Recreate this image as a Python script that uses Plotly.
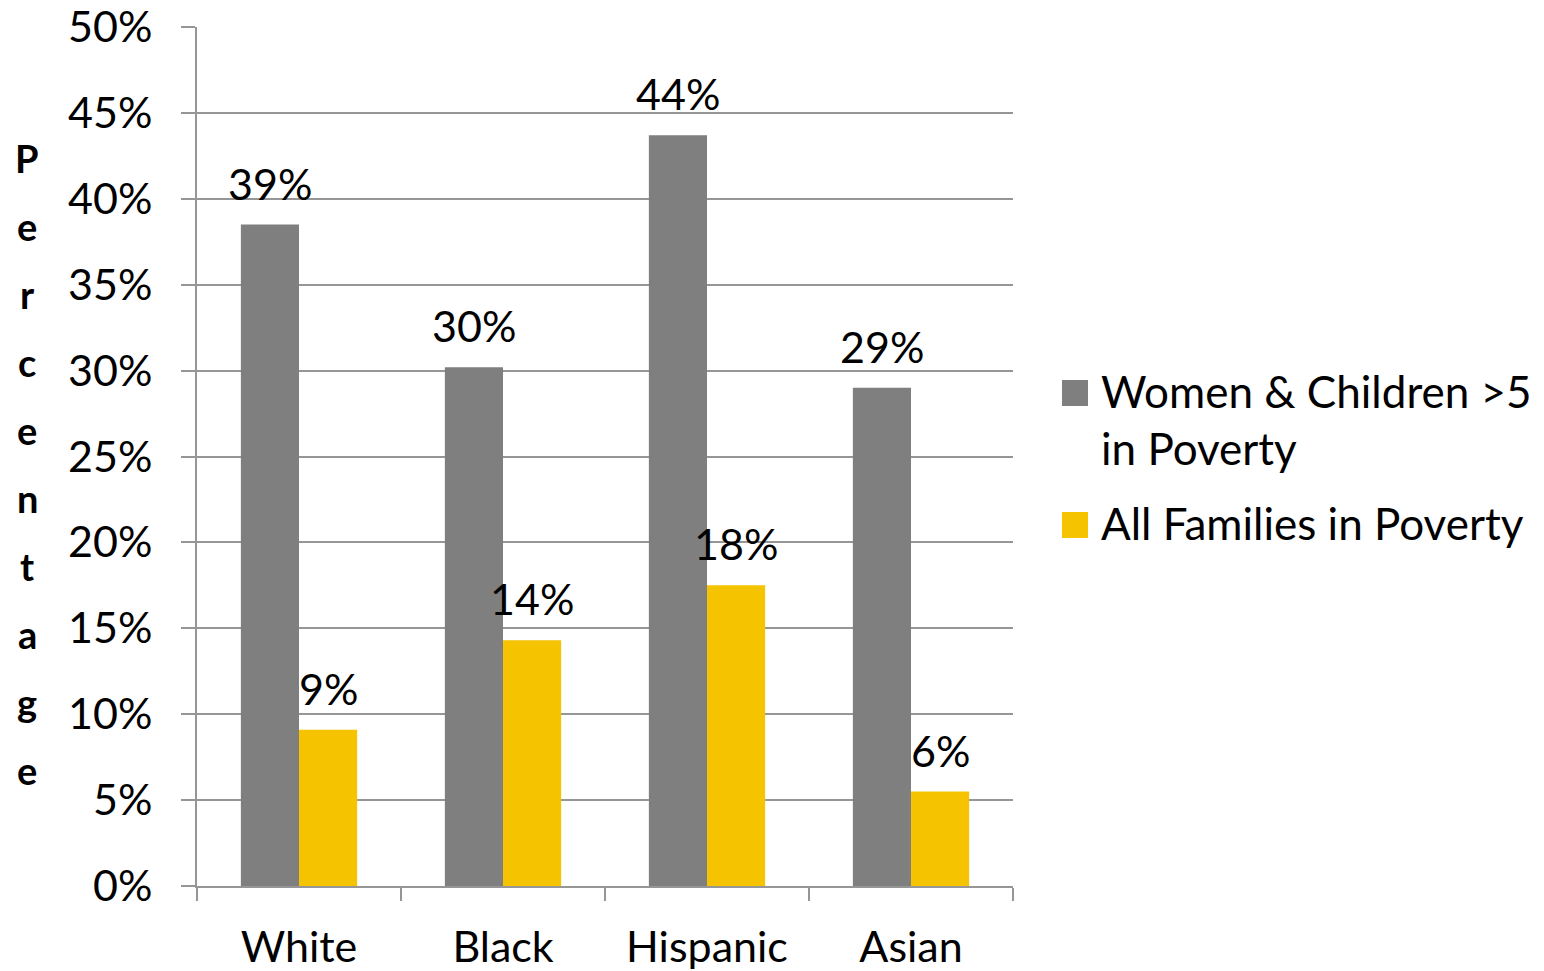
import plotly.graph_objects as go

categories = ["White", "Black", "Hispanic", "Asian"]
women_children = [38.5, 30.2, 43.7, 29.0]
all_families = [9.1, 14.3, 17.5, 5.5]
women_labels = ["39%", "30%", "44%", "29%"]
families_labels = ["9%", "14%", "18%", "6%"]
series_names = ["Women & Children >5<br>in Poverty", "All Families in Poverty"]
y_ticks = [0, 5, 10, 15, 20, 25, 30, 35, 40, 45, 50]
y_tick_text = [f"{v}%" for v in y_ticks]
axis_title = "Percentage"

FONT = "Lato, Carlito, Calibri, sans-serif"
GREY = "#7f7f7f"
YELLOW = "#f5c300"
LINE = "#969696"
FS = 43

# plot-area geometry (pixels)
L, R, T, B = 197, 1013, 27, 886
W, H = R - L, B - T


def px_x(px):
    return (px - L) / W


def px_y(py):
    return (B - py) / H


fig = go.Figure()
fig.add_trace(go.Bar(
    x=categories, y=women_children, name=series_names[0],
    marker=dict(color=GREY, line=dict(width=0)), showlegend=False,
))
fig.add_trace(go.Bar(
    x=categories, y=all_families, name=series_names[1],
    marker=dict(color=YELLOW, line=dict(width=0)), showlegend=False,
))

# data labels above bars
bar_w = 58
for vals, labels, sh in [(women_children, women_labels, -bar_w / 2),
                         (all_families, families_labels, bar_w / 2)]:
    for c, v, lab in zip(categories, vals, labels):
        fig.add_annotation(
            x=c, y=v, xref="x", yref="y", text=lab, showarrow=False,
            xanchor="center", yanchor="bottom", xshift=sh, yshift=14,
            font=dict(size=FS, color="black", family=FONT),
        )

# stacked vertical axis title letters
top_px, step_px = 158, 68
for i, ch in enumerate(axis_title):
    fig.add_annotation(
        text=f"<b>{ch}</b>", xref="paper", yref="paper",
        x=px_x(27), y=px_y(top_px + i * step_px),
        showarrow=False, xanchor="center", yanchor="middle",
        font=dict(size=38, color="black", family=FONT),
    )

# legend (manual, to get large square swatches)
legend_items = [(series_names[0], GREY, 393), (series_names[1], YELLOW, 525)]
for name, col, cy in legend_items:
    fig.add_shape(
        type="rect", xref="paper", yref="paper",
        x0=px_x(1062), x1=px_x(1088), y0=px_y(cy + 13), y1=px_y(cy - 13),
        fillcolor=col, line=dict(width=0),
    )
    fig.add_annotation(
        text=name, xref="paper", yref="paper", x=px_x(1099), y=px_y(cy - 30),
        xanchor="left", yanchor="top", align="left", showarrow=False,
        font=dict(size=44, color="black", family=FONT),
    )

fig.update_layout(
    width=1544, height=971,
    margin=dict(l=L, r=1544 - R, t=T, b=971 - B, pad=0),
    paper_bgcolor="white", plot_bgcolor="white",
    barmode="group", bargap=0.43, bargroupgap=0,
    font=dict(family=FONT, size=FS, color="black"),
    showlegend=False,
)
fig.update_xaxes(
    showline=True, linecolor=LINE, linewidth=2,
    ticks="outside", tickson="boundaries", ticklen=13, tickcolor=LINE, tickwidth=2,
    tickfont=dict(size=FS, family=FONT, color="black"),
    showgrid=False, automargin=False, ticklabelstandoff=22,
)
fig.update_yaxes(
    range=[0, 50], tickvals=y_ticks, ticktext=y_tick_text,
    showline=True, linecolor=LINE, linewidth=2,
    ticks="outside", ticklen=14, tickcolor=LINE, tickwidth=2,
    showgrid=True, gridcolor=LINE, gridwidth=2,
    tickfont=dict(size=FS, family=FONT, color="black"),
    ticklabelstandoff=20, zeroline=False, automargin=False,
)

fig.write_html("out.html")
